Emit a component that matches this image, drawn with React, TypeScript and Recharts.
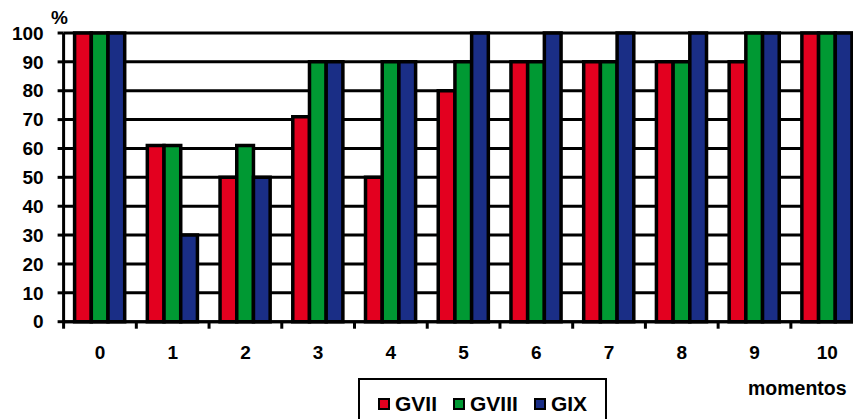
import React from 'react';
import { BarChart, Bar, XAxis, YAxis, CartesianGrid } from 'recharts';

// Moments of measurement (x categories)
const momentos = ['0', '1', '2', '3', '4', '5', '6', '7', '8', '9', '10'];

// Percentage per group at each moment
const gvii = [100, 61, 50, 71, 50, 80, 90, 90, 90, 90, 100];
const gviii = [100, 61, 61, 90, 90, 90, 90, 90, 90, 100, 100];
const gix = [100, 30, 50, 90, 90, 100, 100, 100, 100, 100, 100];

const yTicks = [0, 10, 20, 30, 40, 50, 60, 70, 80, 90, 100];

const series = [
  { key: 'GVII', color: '#e3001f', values: gvii },
  { key: 'GVIII', color: '#009933', values: gviii },
  { key: 'GIX', color: '#1a2e86', values: gix },
];

const data = momentos.map((m, i) => {
  const row: Record<string, string | number> = { momento: m };
  series.forEach((s) => {
    row[s.key] = s.values[i];
  });
  return row;
});

const FONT = '"Liberation Sans", Arial, Helvetica, sans-serif';
const CHART_W = 866;
const CHART_H = 419;
const MARGIN = { top: 33, right: 2.4, bottom: 67.3, left: 3.6 };
const Y_AXIS_W = 60;
const PLOT_W = CHART_W - MARGIN.left - MARGIN.right - Y_AXIS_W;
const STEP = PLOT_W / momentos.length;
const X_TICK_SIZE = 7;
const X_TICK_MARGIN = 17;
const LINE_W = 3;

// Category label centred in its band, with a tick mark on the band's left edge
const XTick = (props: any) => {
  const { x, y, payload } = props;
  const axisY = y - X_TICK_SIZE - X_TICK_MARGIN;
  const edge = x - STEP / 2;
  return (
    <g>
      <line x1={edge} x2={edge} y1={axisY} y2={axisY + X_TICK_SIZE} stroke="#000" strokeWidth={LINE_W} />
      <text
        x={x}
        y={y}
        dy="0.71em"
        textAnchor="middle"
        fill="#000"
        fontSize={19}
        fontWeight="bold"
        fontFamily={FONT}
      >
        {payload.value}
      </text>
    </g>
  );
};

export default function App() {
  return (
    <div
      style={{
        position: 'absolute',
        left: 0,
        top: 0,
        width: 853,
        height: 419,
        overflow: 'hidden',
        background: '#fff',
        fontFamily: FONT,
      }}
    >
      <BarChart
        width={CHART_W}
        height={CHART_H}
        data={data}
        margin={MARGIN}
        barGap={0}
        barSize={16.7}
      >
        <CartesianGrid vertical={false} stroke="#000" strokeWidth={LINE_W} />
        <XAxis
          dataKey="momento"
          height={30}
          axisLine={{ stroke: '#000', strokeWidth: LINE_W }}
          tickLine={false}
          tickSize={X_TICK_SIZE}
          tickMargin={X_TICK_MARGIN}
          tick={<XTick />}
          interval={0}
        />
        <YAxis
          width={Y_AXIS_W}
          domain={[0, 100]}
          ticks={yTicks}
          interval={0}
          axisLine={{ stroke: '#000', strokeWidth: LINE_W }}
          tickLine={{ stroke: '#000', strokeWidth: LINE_W }}
          tickSize={6}
          tickMargin={14}
          tick={{ fill: '#000', fontSize: 19, fontWeight: 'bold', fontFamily: FONT }}
        />
        {series.map((s) => (
          <Bar
            key={s.key}
            dataKey={s.key}
            fill={s.color}
            stroke="#000"
            strokeWidth={3.5}
            isAnimationActive={false}
          />
        ))}
      </BarChart>

      <div
        style={{
          position: 'absolute',
          left: 51,
          top: 7,
          fontSize: 19,
          fontWeight: 'bold',
          lineHeight: '22px',
          color: '#000',
        }}
      >
        %
      </div>

      <div
        style={{
          position: 'absolute',
          left: 748,
          top: 377,
          fontSize: 19.5,
          fontWeight: 'bold',
          lineHeight: '22px',
          color: '#000',
        }}
      >
        momentos
      </div>

      <div
        style={{
          position: 'absolute',
          left: 358,
          top: 378,
          width: 249,
          height: 60,
          border: '2px solid #000',
          background: '#fff',
          boxSizing: 'border-box',
          display: 'flex',
          alignItems: 'flex-start',
          paddingLeft: 18,
          paddingTop: 12,
        }}
      >
        {series.map((s) => (
          <div key={s.key} style={{ display: 'flex', alignItems: 'center', marginRight: 16 }}>
            <span
              style={{
                display: 'inline-block',
                width: 8,
                height: 8,
                background: s.color,
                border: '2px solid #000',
                marginRight: 5,
              }}
            />
            <span style={{ fontSize: 21, fontWeight: 'bold', lineHeight: '24px', color: '#000' }}>
              {s.key}
            </span>
          </div>
        ))}
      </div>
    </div>
  );
}
